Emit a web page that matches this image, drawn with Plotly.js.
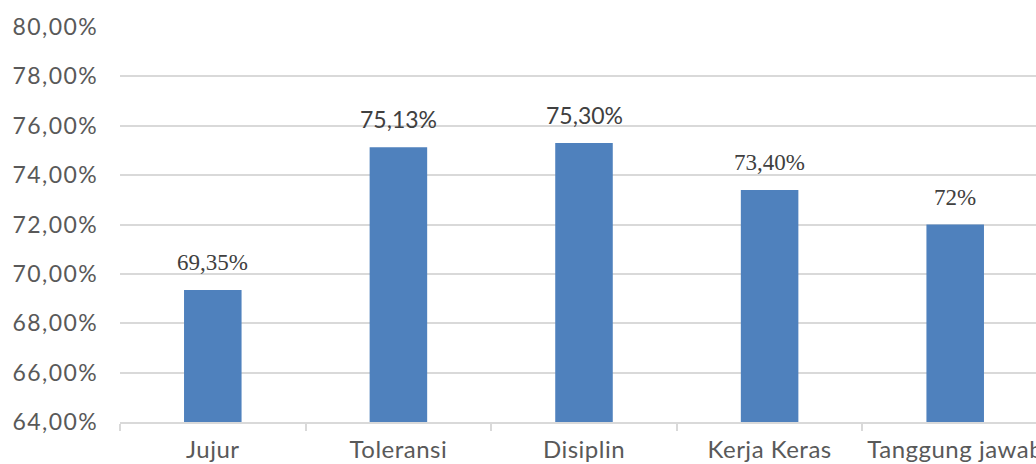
<!DOCTYPE html>
<html>
<head>
<meta charset="utf-8">
<script src="https://cdn.plot.ly/plotly-3.0.1.min.js"></script>
<style>
html, body { margin: 0; padding: 0; overflow: hidden; background: #fff; }
#chart { width: 1048px; height: 464px; }
#chart .ytick text { letter-spacing: 1.4px; }
#chart .xtick text { letter-spacing: 0.5px; }
</style>
</head>
<body>
<div id="chart"></div>
<script>
const categories = ['Jujur', 'Toleransi', 'Disiplin', 'Kerja Keras', 'Tanggung jawab'];
const values = [0.6935, 0.7513, 0.7530, 0.7340, 0.72];
const valueLabels = ['69,35%', '75,13%', '75,30%', '73,40%', '72%'];
const labelIsSans = [false, true, true, false, false];
const yTickValues = [0.64, 0.66, 0.68, 0.70, 0.72, 0.74, 0.76, 0.78, 0.80];

const sansFont = 'Lato, "Open Sans", sans-serif';
const serifFont = '"Liberation Serif", "Times New Roman", serif';

const annotations = categories.map((c, i) => ({
  x: c, y: values[i], xref: 'x', yref: 'y',
  text: valueLabels[i], showarrow: false,
  yanchor: 'middle', yshift: labelIsSans[i] ? 28 : 27,
  font: labelIsSans[i]
    ? { family: sansFont, size: 23, color: '#404040' }
    : { family: serifFont, size: 23, color: '#404040' }
}));

const trace = {
  type: 'bar',
  x: categories,
  y: values,
  marker: { color: '#4f81bd' },
  hoverinfo: 'none'
};

const layout = {
  width: 1048, height: 464,
  margin: { l: 120, r: 0, t: 27, b: 42 },
  paper_bgcolor: '#ffffff', plot_bgcolor: '#ffffff',
  separators: ',.',
  bargap: 0.69,
  showlegend: false,
  xaxis: {
    type: 'category',
    showline: true, linecolor: '#d9d9d9', linewidth: 2,
    ticks: 'outside', tickson: 'boundaries', ticklen: 7, tickcolor: '#d9d9d9', tickwidth: 2,
    showgrid: false, zeroline: false,
    tickfont: { family: sansFont, size: 24, color: '#595959' },
    ticklabelstandoff: 5
  },
  yaxis: {
    range: [0.64, 0.80],
    tickvals: yTickValues,
    tickformat: '.2%',
    showgrid: true, gridcolor: '#d9d9d9', gridwidth: 2,
    zeroline: false, showline: false,
    ticks: '',
    tickfont: { family: sansFont, size: 23, color: '#595959' },
    ticklabelstandoff: 21
  },
  annotations: annotations
};

Plotly.newPlot('chart', [trace], layout, { displayModeBar: false, staticPlot: true });
</script>
</body>
</html>
